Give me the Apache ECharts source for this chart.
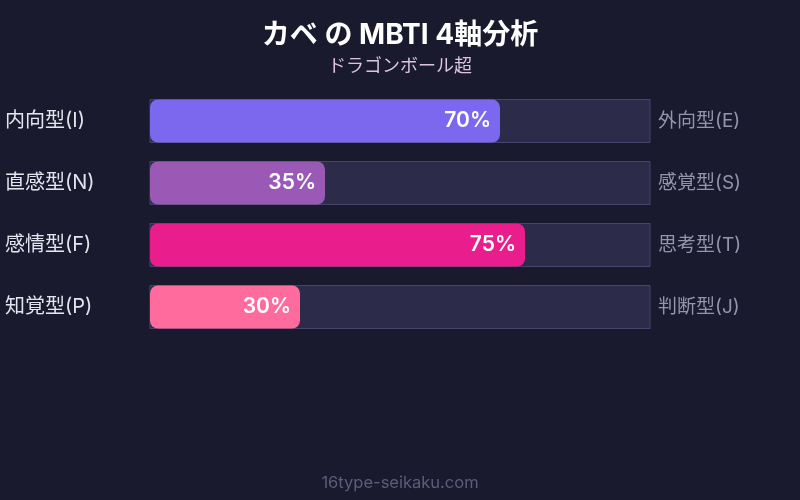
<!DOCTYPE html>
<html>
<head>
<meta charset="utf-8">
<script src="https://cdn.jsdelivr.net/npm/echarts@6/dist/echarts.min.js"></script>
<style>html,body{margin:0;padding:0;background:#1a1a2e;}#c{width:800px;height:500px;}</style>
</head>
<body>
<div id="c"></div>
<script>
const leftLabels = ['内向型(I)', '直感型(N)', '感情型(F)', '知覚型(P)'];
const rightLabels = ['外向型(E)', '感覚型(S)', '思考型(T)', '判断型(J)'];
const values = [70, 35, 75, 30];
const colors = ['#7b68ee', '#9b59b6', '#e91e8c', '#ff6b9d'];
const titleText = 'カベ の MBTI 4軸分析';
const subtitleText = 'ドラゴンボール超';
const footerText = '16type-seikaku.com';

const FONT = 'Inter, "Noto Sans CJK JP", sans-serif';
const chart = echarts.init(document.getElementById('c'));
chart.setOption({
  backgroundColor: '#1a1a2e',
  animation: false,
  title: [{
    text: titleText,
    left: 'center',
    top: 17,
    textStyle: { color: '#ffffff', fontSize: 28, fontWeight: 'bold', fontFamily: FONT }
  }, {
    text: subtitleText,
    left: 'center',
    top: 53,
    textStyle: { color: '#dcc4e0', fontSize: 18, fontWeight: 'normal', fontFamily: FONT }
  }],
  graphic: [{
    type: 'text',
    left: 'center',
    top: 475,
    style: { text: footerText, fill: '#5c5c7c', fontSize: 16.5, fontFamily: FONT }
  }],
  grid: { left: 150, right: 150, top: 90, height: 248, containLabel: false },
  xAxis: { type: 'value', min: 0, max: 100, show: false },
  yAxis: [{
    type: 'category',
    data: leftLabels,
    inverse: true,
    position: 'left',
    axisLine: { show: false },
    axisTick: { show: false },
    axisLabel: { align: 'left', margin: 145, color: '#e4e4ee', fontSize: 20, fontFamily: FONT }
  }, {
    type: 'category',
    data: rightLabels,
    inverse: true,
    position: 'right',
    axisLine: { show: false },
    axisTick: { show: false },
    axisLabel: { align: 'left', margin: 8, color: '#9494ac', fontSize: 19, fontFamily: FONT }
  }],
  series: [{
    type: 'bar',
    yAxisIndex: 0,
    barWidth: 43,
    data: values.map((v, i) => ({ value: v, itemStyle: { color: colors[i] } })),
    itemStyle: { borderRadius: 8 },
    showBackground: true,
    backgroundStyle: { color: '#2c2b4a', borderColor: '#45446a', borderWidth: 1 },
    label: {
      show: true,
      position: 'insideRight',
      distance: 9,
      formatter: '{c}%',
      color: '#ffffff',
      fontSize: 21,
      fontWeight: 600,
      fontFamily: FONT
    }
  }]
});
</script>
</body>
</html>
